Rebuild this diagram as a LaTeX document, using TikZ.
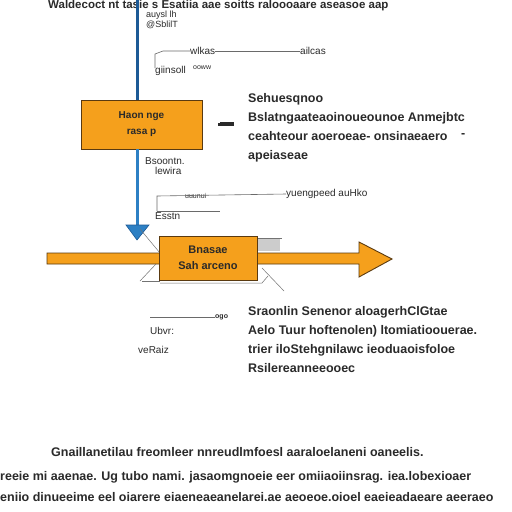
\documentclass[tikz,border=0pt]{standalone}
\usepackage{fontspec}
\setmainfont{Liberation Sans}
\definecolor{orangeF}{HTML}{F5A01C}
\definecolor{orangeD}{HTML}{5A3A10}
\definecolor{blueD}{HTML}{1D5A96}
\definecolor{blueL}{HTML}{2D80C4}
\definecolor{ink}{HTML}{2A2A2A}
\begin{document}
\begin{tikzpicture}[x=1pt,y=-1pt,
  txt/.style={font=\fontsize{12.5}{14}\selectfont\bfseries, text=ink, inner sep=0pt, anchor=west},
  smalltxt/.style={font=\fontsize{10}{11}\selectfont, text=ink, inner sep=0pt, anchor=west},
  tinytxt/.style={font=\fontsize{7}{8}\selectfont, text=ink, inner sep=0pt, anchor=west},
  obox/.style={draw=orangeD, line width=0.9pt, fill=orangeF, inner sep=0pt, text=ink, align=center},
  thinline/.style={draw=ink!70, line width=0.6pt},
  grayline/.style={draw=black!55, line width=0.5pt}]
\useasboundingbox (0,0) rectangle (512,512);
\fill[white] (0,0) rectangle (512,512);

% top text
\node[txt, font=\fontsize{11.5}{12}\selectfont\bfseries] (toptext) at (48,5.5) {Waldecoct nt tasie s Esatiia  aae  soitts raloooaare aseasoe aap};

% top blue line and box 1
\coordinate (top) at (137,0);
\node[obox, minimum width=121pt, minimum height=49pt, font=\fontsize{10}{16}\selectfont\bfseries] (b1) at (141.5,124.5) {Haon nge\\ rasa p};
\draw[blueD, line width=3pt] (top) -- (top |- b1.north);

% labels along upper blue line
\node[smalltxt, align=left, font=\fontsize{9}{9.5}\selectfont] (lab1) at (146,20) {auysl lh\\@SblilT};
\coordinate (br1) at (155,68);
\coordinate (l1a) at (163,51);
\node[smalltxt] (w1) at (190,51) {wlkas};
\node[smalltxt] (w2) at (300,51) {ailcas};
\draw[thinline] (br1) -- (155,54) -- (l1a) -- (w1.west);
\draw[thinline] (w1.east) -- (w2.west);
\node[smalltxt] (w3) at (155,71) {giinsoll};
\node[tinytxt] (w4) at (193,68) {ooww};

% text block right of box 1
\node[txt] (t1) at (248,99) {Sehuesqnoo};
\node[txt] (t2) at (248,118) {Bslatngaateaoinoueounoe Anmejbtc};
\node[txt] (t3) at (248,136) {ceahteour aoeroeae- onsinaeaero};
\node[txt] (t3b) at (461,136) {-};
\node[txt] (t4) at (248,156) {apeiaseae};
\coordinate (mk) at (218,123);
\fill[ink] (mk) rectangle ++(16,3);
\draw[ink, line width=1pt] (220,122) -- (234,122);

% lower blue line and arrowhead
\coordinate (tip) at (137,240);
\draw[blueL, line width=3pt] (b1.south -| tip) -- (137,226);
\fill[blueL, draw=blueD, line width=0.6pt] (126,225) -- (149,225) -- (tip) -- cycle;

% labels along lower blue line
\node[smalltxt, align=left] (lab2) at (145,166) {Bsoontn.\\[-1pt]\hspace*{10pt}lewira};
\coordinate (br2) at (157,211);
\node[tinytxt] (u1) at (185,196) {uuunui};
\node[smalltxt] (u2) at (286,194) {yuengpeed auHko};
\draw[thinline] (br2) -- (157,196) -- (u2.west);
\draw[thinline] (br2) -- (220,211);
\node[smalltxt] (u3) at (155,216) {Esstn};

% orange horizontal arrow
\coordinate (ah) at (392,259);
\fill[orangeF, draw=orangeD, line width=0.9pt] (47,253) -- (359,253) -- (359,242) -- (ah) -- (359,277) -- (359,264) -- (47,264) -- cycle;

% gray sketch lines around box 2
\draw[grayline] (140,229) -- (160,253);
\draw[grayline] (140,281) -- (156,264);
\draw[grayline] (142,281) -- (160,281);
\draw[grayline] (160,283) -- (262,283) -- (268,276);
\draw[grayline] (262,268) -- (284,291);
\fill[black!20] (258,238) rectangle (280,251);
\draw[grayline] (258,238) -- (282,238);

% box 2
\node[obox, minimum width=98pt, minimum height=44pt, font=\fontsize{11}{16}\selectfont\bfseries] (b2) at (208,258) {Bnasae\\ Sah arceno};

% lower left labels
\coordinate (ll) at (150,317);
\node[tinytxt] (ogo) at (215,317) {\bfseries ogo};
\draw[thinline] (ll) -- (ogo.west);
\node[smalltxt] (v1) at (150,331) {Ubvr:};
\node[smalltxt] (v2) at (138,350) {veRaiz};

% lower right text block
\node[txt] (s1) at (248,312) {Sraonlin Senenor aloagerhClGtae};
\node[txt] (s2) at (248,331) {Aelo Tuur hoftenolen) ltomiatioouerae.};
\node[txt] (s3) at (248,350) {trier iloStehgnilawc ieoduaoisfoloe};
\node[txt] (s4) at (248,368) {Rsilereanneeooec};

% bottom text
\node[txt] (c1) at (51,452) {Gnaillanetilau freomleer nnreudlmfoesl  aaraloelaneni oaneelis.};
\node[txt] (c2) at (0,477) {reeie mi aaenae. Ug tubo nami. jasaomgnoeie eer omiiaoiinsrag. iea.lobexioaer};
\node[txt] (c3) at (0,497) {eniio dinueeime eel oiarere eiaeneaeanelarei.ae aeoeoe.oioel eaeieadaeare aeeraeo};
\end{tikzpicture}
\end{document}
